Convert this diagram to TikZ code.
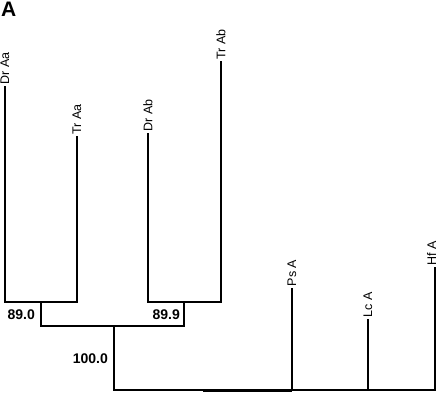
\documentclass[tikz,border=0pt]{standalone}
\usepackage{fontspec}
\setmainfont{Liberation Sans}
\begin{document}
\begin{tikzpicture}[x=1pt,y=-1pt,
  branch/.style={line width=1.3pt,line cap=rect},
  leaflabel/.style={rotate=90,anchor=west,inner sep=2.5pt,font=\fontsize{12.5}{14}\selectfont},
  support/.style={font=\fontsize{14}{16}\selectfont\bfseries,inner sep=0pt}]
\useasboundingbox (0,0) rectangle (440,395);
% leaf tips
\coordinate (DrAa) at (5,87);
\coordinate (TrAa) at (77,137);
\coordinate (DrAb) at (148,134);
\coordinate (TrAb) at (221,62);
\coordinate (PsA) at (292,289);
\coordinate (LcA) at (368,320);
\coordinate (HfA) at (435,268);
% internal nodes
\coordinate (nAa) at (41,302);
\coordinate (nAb) at (184,302);
\coordinate (nAA) at (114,326);
\coordinate (root) at (114,390);
% branches
\draw[branch] (DrAa) |- (nAa) -| (TrAa);
\draw[branch] (DrAb) |- (nAb) -| (TrAb);
\draw[branch] (nAa) |- (nAA) -| (nAb);
\draw[branch] (nAA) -- (root) -| (HfA);
\draw[branch] (PsA) |- (root);
\draw[branch] (LcA) |- (root);
\draw[line width=2.6pt] (203,390.7) -- (292,390.7);
% leaf labels
\node[leaflabel] (lDrAa) at (DrAa) {Dr Aa};
\node[leaflabel] (lTrAa) at (TrAa) {Tr Aa};
\node[leaflabel] (lDrAb) at (DrAb) {Dr Ab};
\node[leaflabel] (lTrAb) at (TrAb) {Tr Ab};
\node[leaflabel] (lPsA) at (PsA) {Ps A};
\node[leaflabel] (lLcA) at (LcA) {Lc A};
\node[leaflabel,yshift=3.5pt] (lHfA) at (HfA) {Hf A};
% support values
\node[support,anchor=east] (s1) at (35,315) {89.0};
\node[support,anchor=east] (s2) at (180,315) {89.9};
\node[support,anchor=east] (s3) at (108,359) {100.0};
% panel letter
\node[anchor=north west,inner sep=0pt,font=\fontsize{21}{23}\selectfont\bfseries] (panel) at (1,2) {A};
\end{tikzpicture}
\end{document}
